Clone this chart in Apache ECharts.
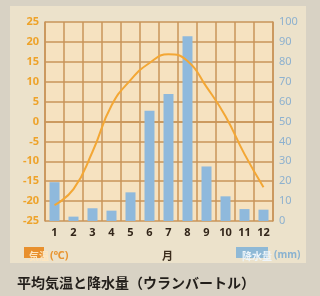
<!DOCTYPE html>
<html><head><meta charset="utf-8">
<script src="https://cdn.jsdelivr.net/npm/echarts@6/dist/echarts.min.js"></script>
<style>html,body{margin:0;padding:0;background:#d8d2c4;}#c{width:320px;height:296px;}</style>
</head><body><div id="c"></div>
<script>
const months = ['1','2','3','4','5','6','7','8','9','10','11','12'];
const temperature = [-21, -17, -7.6, 4, 10.4, 14.7, 16.9, 15.2, 8.7, 1.3, -8.2, -16.5];
const precipitation = [19.5, 2.2, 6.4, 5.2, 14.4, 55.4, 63.8, 92.8, 27.4, 12.4, 6, 5.7];
const tempTicks = [-25, 25, 5];
const precTicks = [0, 100, 10];

const chart = echarts.init(document.getElementById('c'), null, {renderer:'canvas'});
const gridColor = '#c9955a';
chart.setOption({
  animation: false,
  backgroundColor: '#d8d2c4',
  graphic: [
    {type:'rect', shape:{x:10, y:6, width:296, height:257}, style:{fill:'#ece2cb'}, z:-10},
    {type:'rect', shape:{x:24, y:247, width:20, height:11}, style:{fill:'#e8902e'}, z:-5},
    {type:'rect', shape:{x:236, y:247, width:32, height:11}, style:{fill:'#8fb9d6'}, z:-5}
  ],
  title: [
    {text:'気温', left:24, top:246, textStyle:{fontSize:10, color:'#fde6c0', fontWeight:'bold', fontFamily:'Noto Sans CJK JP'}},
    {text:'(℃)', left:45, top:245, textStyle:{fontSize:11, color:'#e89430', fontWeight:'bold', fontFamily:'Noto Sans'}},
    {text:'月', left:157, top:245, textStyle:{fontSize:11, color:'#3b2c1c', fontWeight:'bold', fontFamily:'Noto Sans CJK JP'}},
    {text:'降水量', left:237, top:246, textStyle:{fontSize:10, color:'#eef5fa', fontWeight:'bold', fontFamily:'Noto Sans CJK JP'}},
    {text:'(mm)', left:269, top:245, textStyle:{fontSize:10, color:'#8ab2d0', fontWeight:'bold', fontFamily:'Noto Sans'}},
    {text:'平均気温と降水量（ウランバートル）', left:12, top:271, textStyle:{fontSize:14, color:'#221e1a', fontWeight:'bold', fontFamily:'Noto Sans CJK JP'}}
  ],
  grid: {left:45, right:47, top:22, bottom:75, show:true, backgroundColor:'#f6e2c0', borderWidth:0},
  xAxis: {
    type:'category', data: months, boundaryGap:true,
    axisLine:{show:true, lineStyle:{color:gridColor, width:1.5}},
    axisTick:{show:false},
    axisLabel:{color:'#33261a', fontSize:11, fontWeight:'bold', margin:6, fontFamily:'Noto Sans', interval:0},
    splitLine:{show:true, interval:0, lineStyle:{color:gridColor, width:1.5}}
  },
  yAxis: [
    {type:'value', min:tempTicks[0], max:tempTicks[1], interval:tempTicks[2],
     axisLine:{show:true, lineStyle:{color:gridColor, width:1.5}}, axisTick:{show:false},
     axisLabel:{color:'#eea32a', fontSize:11, fontWeight:'bold', margin:6, fontFamily:'Noto Sans'},
     splitLine:{show:true, lineStyle:{color:gridColor, width:1.5}}},
    {type:'value', min:precTicks[0], max:precTicks[1], interval:precTicks[2], position:'right',
     axisLine:{show:true, lineStyle:{color:gridColor, width:1.5}}, axisTick:{show:false},
     axisLabel:{color:'#8db1cf', fontSize:11, margin:6, fontFamily:'Noto Sans'},
     splitLine:{show:false}}
  ],
  series: [
    {type:'bar', yAxisIndex:1, data: precipitation, barWidth:10, itemStyle:{color:'#8fb9dc'}, z:2},
    {type:'line', yAxisIndex:0, data: temperature, smooth:true, showSymbol:false, symbol:'none',
     lineStyle:{color:'#f3a735', width:2}, z:3}
  ]
});
</script></body></html>
